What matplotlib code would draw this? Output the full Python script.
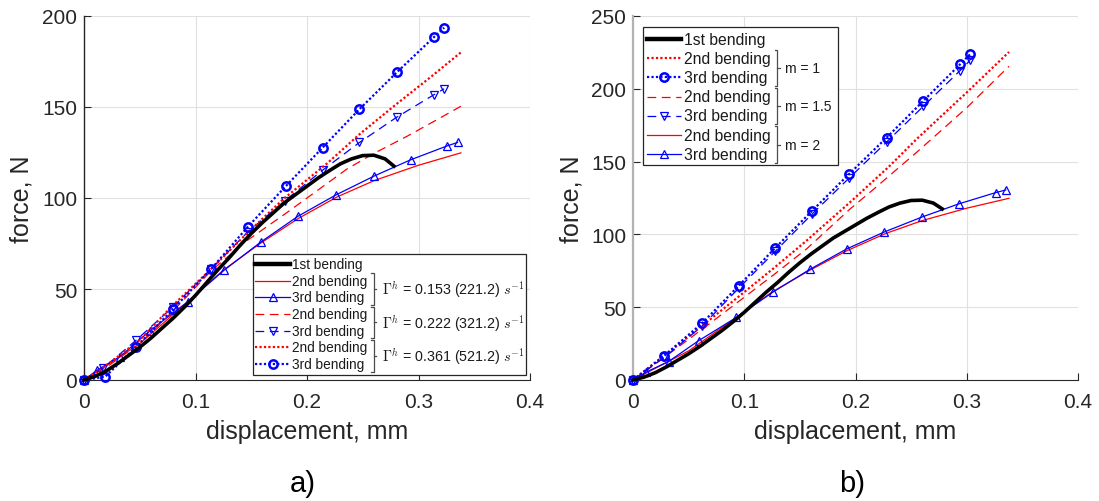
import matplotlib
matplotlib.use("Agg")
import matplotlib.pyplot as plt
from matplotlib.lines import Line2D
from matplotlib.patches import Rectangle

plt.rcParams['font.family'] = ['Liberation Sans', 'DejaVu Sans']
plt.rcParams['mathtext.fontset'] = 'cm'

# 1st bending (experiment), same in both panels
disp_1st = [0, 0.01, 0.02, 0.03, 0.04, 0.05, 0.06, 0.07, 0.08, 0.09, 0.10, 0.11, 0.12, 0.13,
            0.14, 0.15, 0.16, 0.17, 0.18, 0.19, 0.20, 0.21, 0.22, 0.23, 0.24, 0.25, 0.26, 0.27, 0.278]
force_1st = [0, 2, 5, 9, 13.5, 18, 23, 28.5, 34, 40, 46.5, 53.5, 60.5, 67,
             74, 80.5, 86.5, 92, 97.5, 102, 106.5, 111, 115, 118.8, 121.5, 123.3, 123.5, 121.5, 117.5]

# Gamma = 0.153 (also m = 2)
disp_2nd_a = [0, 0.02, 0.05, 0.093, 0.125, 0.158, 0.192, 0.227, 0.26, 0.30, 0.338]
force_2nd_a = [0, 8, 20, 43, 60.4, 75, 88.7, 100.6, 109.5, 118, 124.8]
disp_3rd_a = [0, 0.012, 0.032, 0.059, 0.093, 0.126, 0.159, 0.192, 0.226, 0.26, 0.293, 0.326, 0.335]
force_3rd_a = [0, 5.5, 12.7, 27, 43, 60.5, 76, 90, 101.7, 112, 121, 128.7, 130.5]

# Gamma = 0.222
disp_2nd_b = [0, 0.02, 0.05, 0.08, 0.114, 0.146, 0.182, 0.20, 0.218, 0.236, 0.26, 0.29, 0.315, 0.338]
force_2nd_b = [0, 7, 20, 38, 60, 76.5, 92, 100, 108, 116, 124.5, 134, 142.5, 150.4]
disp_3rd_b = [0, 0.017, 0.047, 0.08, 0.114, 0.147, 0.18, 0.214, 0.247, 0.281, 0.314, 0.323]
force_3rd_b = [0, 6.4, 22, 40.3, 61, 81.4, 98.4, 115.3, 130.5, 144.6, 156.8, 160]

# Gamma = 0.361
disp_2nd_c = [0, 0.02, 0.05, 0.08, 0.113, 0.146, 0.179, 0.218, 0.248, 0.28, 0.31, 0.338]
force_2nd_c = [0, 8, 22, 41.2, 60.4, 80.5, 99.5, 119, 135.5, 151.5, 166, 180]
disp_3rd_c = [0, 0.019, 0.047, 0.08, 0.114, 0.147, 0.181, 0.214, 0.247, 0.281, 0.314, 0.323]
force_3rd_c = [0, 1.8, 18.3, 39, 61, 84.2, 106.5, 127.7, 148.8, 169.3, 188.5, 193.6]

# m = 1
disp_2nd_m1 = [0, 0.036, 0.065, 0.096, 0.126, 0.156, 0.195, 0.23, 0.255, 0.30, 0.338]
force_2nd_m1 = [0, 21.3, 39, 57.9, 76.5, 95.7, 122, 146.5, 165.5, 197.5, 225.3]
disp_3rd_m1 = [0, 0.028, 0.062, 0.095, 0.128, 0.161, 0.194, 0.228, 0.261, 0.294, 0.303]
force_3rd_m1 = [0, 16.7, 38.9, 64.7, 90.8, 116.2, 141.3, 166.5, 191.7, 216.8, 223.7]

# m = 1.5
disp_2nd_m15 = [0, 0.036, 0.065, 0.096, 0.126, 0.156, 0.195, 0.213, 0.255, 0.30, 0.338]
force_2nd_m15 = [0, 20, 36.5, 54.5, 72, 90, 117.4, 128.9, 156.4, 187, 215.5]
disp_3rd_m15 = [0, 0.028, 0.062, 0.095, 0.128, 0.161, 0.194, 0.228, 0.261, 0.294, 0.303]
force_3rd_m15 = [0, 15.5, 37, 63, 88.5, 114, 138.5, 163.5, 188, 212.5, 219.5]

W, H = 1099, 502
fig = plt.figure(figsize=(W / 100, H / 100), dpi=100)


def fx(x):
    return x / W


def fy(y):
    return 1 - y / H


# line styles
sty_1st = dict(color='k', lw=2.6)
sty_2nd_solid = dict(color='r', lw=0.9)
sty_2nd_dash = dict(color='r', lw=0.9, linestyle=(0, (7, 4.5)))
sty_2nd_dot = dict(color='r', lw=1.6, linestyle=(0, (1, 1)))
sty_3rd_tri = dict(color='b', lw=0.9, marker='^', ms=6, mfc='none', mew=0.9)
sty_3rd_dtri = dict(color='b', lw=0.9, linestyle=(0, (7, 4.5)), marker='v', ms=6, mfc='none', mew=0.9)
sty_3rd_circ = dict(color='b', lw=1.6, linestyle=(0, (1, 1)), marker='o', ms=6, mfc='none', mew=1.8)


def style_axes(ax, ymax, spine_col):
    ax.set_xlim(0, 0.4)
    ax.set_ylim(0, ymax)
    ax.set_xticks([0, 0.1, 0.2, 0.3, 0.4])
    ax.set_xticklabels(['0', '0.1', '0.2', '0.3', '0.4'])
    ax.set_yticks(range(0, ymax + 1, 50))
    ax.grid(True, color='0.88', lw=0.8)
    ax.set_axisbelow(True)
    for s in ['top', 'right']:
        ax.spines[s].set_visible(False)
    ax.spines['bottom'].set_color('0.15')
    ax.spines['left'].set_color(spine_col)
    ax.spines['left'].set_linewidth(1.0 if spine_col == '0.15' else 1.6)
    ax.tick_params(direction='in', length=5, width=0.8, labelsize=15,
                   colors='0.15', labelcolor='0.15')
    ax.tick_params(axis='x', pad=9)
    ax.tick_params(axis='y', pad=5)


def draw_legend(x0, x1, y0, y1, rows, row_y, samp_x, text_x, fs, groups, brace_x, gtext_x, gfs):
    fig.add_artist(Rectangle((fx(x0), fy(y1)), fx(x1 - x0), y1 / H - y0 / H,
                             transform=fig.transFigure, facecolor='white',
                             edgecolor='0.15', lw=0.9, zorder=5))
    for (label, sty), y in zip(rows, row_y):
        s = dict(sty)
        mk = s.pop('marker', None)
        ms = s.pop('ms', 6)
        mfc = s.pop('mfc', 'none')
        mew = s.pop('mew', 1)
        if s.get('lw', 1) > 2:
            s['lw'] = 3.2
        fig.add_artist(Line2D([fx(samp_x[0]), fx(samp_x[1])], [fy(y), fy(y)],
                              transform=fig.transFigure, zorder=6, **s))
        if mk:
            fig.add_artist(Line2D([fx((samp_x[0] + samp_x[1]) / 2)], [fy(y)], marker=mk,
                                  ms=ms, mfc=mfc, mec=s['color'], mew=mew, lw=0,
                                  transform=fig.transFigure, zorder=7))
        fig.text(fx(text_x), fy(y), label, fontsize=fs, va='center', ha='left',
                 color='0.1', zorder=7)
    for (ia, ib), gtxt in groups:
        ya = row_y[ia] - 0.45 * (row_y[1] - row_y[0])
        yb = row_y[ib] + 0.45 * (row_y[1] - row_y[0])
        ym = (ya + yb) / 2
        fig.add_artist(Line2D([fx(brace_x - 2.5), fx(brace_x), fx(brace_x), fx(brace_x - 2.5)],
                              [fy(ya), fy(ya), fy(yb), fy(yb)], color='0.3', lw=0.9,
                              transform=fig.transFigure, zorder=7))
        fig.add_artist(Line2D([fx(brace_x), fx(brace_x + 2.5)], [fy(ym), fy(ym)], color='0.3',
                              lw=0.9, transform=fig.transFigure, zorder=7))
        fig.text(fx(gtext_x), fy(ym), gtxt, fontsize=gfs, va='center', ha='left',
                 color='0.1', zorder=7)


# ---------------- panel a ----------------
axa = fig.add_axes([fx(84), fy(381), fx(446), 364 / H])
axa.plot(disp_2nd_a, force_2nd_a, clip_on=False, zorder=3, **sty_2nd_solid)
axa.plot(disp_3rd_a, force_3rd_a, clip_on=False, zorder=3, **sty_3rd_tri)
axa.plot(disp_2nd_b, force_2nd_b, clip_on=False, zorder=3, **sty_2nd_dash)
axa.plot(disp_3rd_b, force_3rd_b, clip_on=False, zorder=3, **sty_3rd_dtri)
axa.plot(disp_2nd_c, force_2nd_c, clip_on=False, zorder=3, **sty_2nd_dot)
axa.plot(disp_3rd_c, force_3rd_c, clip_on=False, zorder=3, **sty_3rd_circ)
axa.plot(disp_1st, force_1st, clip_on=False, zorder=4, **sty_1st)
style_axes(axa, 200, '0.15')

rows_a = [('1st bending', sty_1st), ('2nd bending', sty_2nd_solid), ('3rd bending', sty_3rd_tri),
          ('2nd bending', sty_2nd_dash), ('3rd bending', sty_3rd_dtri),
          ('2nd bending', sty_2nd_dot), ('3rd bending', sty_3rd_circ)]
rowy_a = [265 + 16.67 * i for i in range(7)]
groups_a = [((1, 2), r'$\Gamma^h$ = 0.153 (221.2) $s^{-1}$'),
            ((3, 4), r'$\Gamma^h$ = 0.222 (321.2) $s^{-1}$'),
            ((5, 6), r'$\Gamma^h$ = 0.361 (521.2) $s^{-1}$')]
draw_legend(253, 526, 255, 376, rows_a, rowy_a, (255, 290), 292.5, 9.8,
            groups_a, 373.5, 382, 10.3)

fig.text(fx(22), fy(199), 'force, N', rotation=90, fontsize=18, ha='center', va='center', color='0.15')
fig.text(fx(307), fy(432), 'displacement, mm', fontsize=18, ha='center', va='center', color='0.15')
fig.text(fx(303), fy(484), 'a)', fontsize=21, ha='center', va='center', color='k')

# ---------------- panel b ----------------
axb = fig.add_axes([fx(633), fy(381), fx(445), 364 / H])
axb.plot(disp_2nd_m1, force_2nd_m1, clip_on=False, zorder=3, **sty_2nd_dot)
axb.plot(disp_3rd_m1, force_3rd_m1, clip_on=False, zorder=3, **sty_3rd_circ)
axb.plot(disp_2nd_m15, force_2nd_m15, clip_on=False, zorder=3, **sty_2nd_dash)
axb.plot(disp_3rd_m15, force_3rd_m15, clip_on=False, zorder=3, **sty_3rd_dtri)
axb.plot(disp_2nd_a, force_2nd_a, clip_on=False, zorder=3, **sty_2nd_solid)
axb.plot(disp_3rd_a, force_3rd_a, clip_on=False, zorder=3, **sty_3rd_tri)
axb.plot(disp_1st, force_1st, clip_on=False, zorder=4, **sty_1st)
style_axes(axb, 250, '0.7')

rows_b = [('1st bending', sty_1st), ('2nd bending', sty_2nd_dot), ('3rd bending', sty_3rd_circ),
          ('2nd bending', sty_2nd_dash), ('3rd bending', sty_3rd_dtri),
          ('2nd bending', sty_2nd_solid), ('3rd bending', sty_3rd_tri)]
rowy_b = [40 + 19.2 * i for i in range(7)]
groups_b = [((1, 2), 'm = 1'), ((3, 4), 'm = 1.5'), ((5, 6), 'm = 2')]
draw_legend(643, 838, 28, 166, rows_b, rowy_b, (647, 681), 683.5, 11.3,
            groups_b, 777, 785, 10)

fig.text(fx(572), fy(199), 'force, N', rotation=90, fontsize=18, ha='center', va='center', color='0.15')
fig.text(fx(855), fy(432), 'displacement, mm', fontsize=18, ha='center', va='center', color='0.15')
fig.text(fx(852), fy(484), 'b)', fontsize=21, ha='center', va='center', color='k')

fig.savefig('out.png', dpi=100, facecolor='white')
